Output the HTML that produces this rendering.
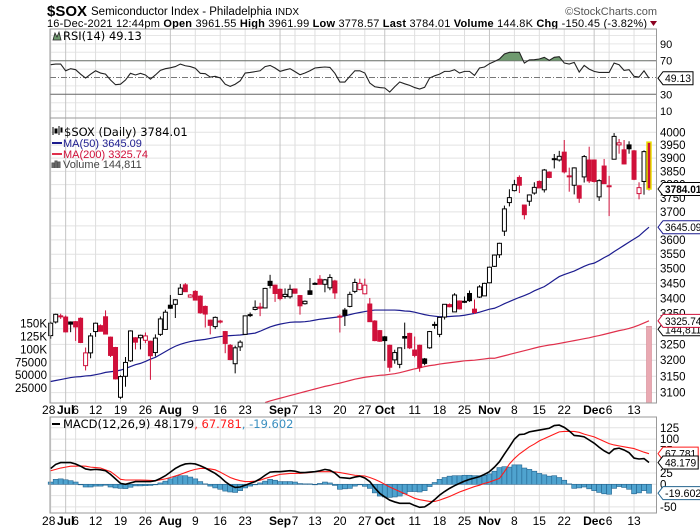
<!DOCTYPE html>
<html><head><meta charset="utf-8"><style>
html,body{margin:0;padding:0;background:#fff;}
svg{display:block;font-family:"Liberation Sans",sans-serif;}
</style></head><body>
<svg id="chart" width="700" height="530" viewBox="0 0 700 530" xmlns="http://www.w3.org/2000/svg">
<rect x="0" y="0" width="700" height="530" fill="#fff"/>
<g>
<text x="47" y="16" font-size="15" font-weight="bold" fill="#000">$SOX</text>
<text x="91" y="15" font-size="11.5" fill="#000">Semiconductor Index - Philadelphia <tspan font-size="10">INDX</tspan></text>
<text x="657" y="15" font-size="11" fill="#555" text-anchor="end">©StockCharts.com</text>
<text x="47" y="27" font-size="11" fill="#000" textLength="600" lengthAdjust="spacing">16-Dec-2021 12:44pm  <tspan font-weight="bold">Open</tspan> 3961.55  <tspan font-weight="bold">High</tspan> 3961.99  <tspan font-weight="bold">Low</tspan> 3778.57  <tspan font-weight="bold">Last</tspan> 3784.01  <tspan font-weight="bold">Volume</tspan> 144.8K  <tspan font-weight="bold">Chg</tspan> -150.45 (-3.82%)</text>
<polygon points="650,21 657,21 653.5,26" fill="#8b0020"/>
</g>
<g id="rsiPanel"></g>
<g id="mainPanel"></g>
<g id="macdPanel"></g>
</svg>
<script>
const opens=[3278,3322,3342,3338,3322,3323,3334,3183,3223,3291,3310,3339,3273,3240,3086,3150,3198,3271,3271,3263,3260,3224,3282,3298,3377,3380,3413,3445,3404,3423,3407,3373,3328,3307,3325,3291,3247,3189,3242,3282,3346,3363,3371,3368,3457,3444,3430,3406,3405,3431,3409,3382,3425,3450,3464,3447,3435,3458,3341,3361,3373,3423,3429,3415,3381,3325,3294,3274,3247,3201,3187,3275,3285,3232,3247,3204,3239,3312,3282,3338,3379,3355,3391,3387,3416,3364,3404,3408,3452,3508,3548,3631,3734,3778,3827,3725,3739,3769,3812,3781,3847,3898,3893,3923,3833,3798,3796,3829,3893,3893,3755,3870,3796,3896,3951,3932,3951,3928,3767,3812,3961.55];
const highs=[3323,3349,3349,3343,3324,3325,3337,3240,3286,3320,3314,3360,3275,3242,3153,3210,3295,3273,3281,3288,3262,3282,3340,3362,3411,3397,3448,3451,3414,3427,3410,3376,3330,3340,3329,3293,3251,3246,3263,3343,3353,3393,3385,3435,3479,3446,3433,3433,3446,3433,3411,3393,3468,3454,3478,3465,3481,3462,3347,3368,3422,3466,3466,3466,3401,3328,3296,3277,3249,3233,3239,3320,3287,3275,3249,3207,3293,3323,3337,3380,3383,3417,3393,3406,3426,3396,3444,3452,3507,3549,3590,3723,3783,3818,3835,3726,3764,3809,3816,3859,3850,3916,3928,3970,3864,3865,3798,3912,3944,3895,3820,3897,3833,3997,3974,3970,3965,3931,3809,3930,3961.99];
const lows=[3268,3317,3332,3288,3289,3261,3254,3168,3206,3274,3291,3283,3210,3140,3081,3118,3195,3234,3234,3254,3139,3212,3277,3298,3365,3335,3411,3422,3402,3394,3349,3304,3282,3299,3317,3222,3200,3159,3229,3282,3338,3360,3341,3367,3433,3388,3393,3399,3399,3415,3346,3379,3412,3446,3446,3420,3427,3398,3288,3309,3370,3417,3427,3413,3323,3260,3258,3198,3164,3189,3175,3235,3235,3209,3164,3184,3236,3300,3273,3330,3370,3355,3363,3384,3388,3348,3401,3408,3450,3506,3537,3614,3720,3775,3769,3673,3722,3763,3788,3771,3824,3861,3887,3842,3774,3764,3733,3808,3806,3808,3740,3804,3685,3896,3917,3876,3917,3817,3746,3763,3778.57];
const closes=[3318,3347,3339,3290,3315,3306,3256,3223,3277,3318,3292,3283,3215,3142,3149,3193,3293,3257,3279,3277,3214,3270,3332,3354,3367,3395,3434,3422,3411,3394,3352,3348,3311,3337,3323,3253,3202,3239,3257,3342,3343,3370,3367,3433,3443,3416,3399,3413,3430,3417,3375,3390,3413,3450,3447,3462,3470,3418,3339,3344,3413,3453,3450,3444,3323,3262,3260,3262,3178,3224,3239,3270,3239,3215,3178,3190,3291,3314,3337,3380,3372,3411,3365,3390,3392,3353,3438,3450,3505,3547,3588,3711,3752,3800,3798,3690,3762,3790,3788,3855,3827,3898,3907,3848,3832,3863,3750,3906,3814,3812,3815,3804,3794,3984,3959,3878,3936,3820,3789,3925,3784.01];
const ma50=[3134,3137,3140,3143,3146,3148,3149,3151,3152,3155,3158,3162,3164,3166,3169,3174,3180,3186,3190,3196,3203,3209,3218,3227,3236,3244,3250,3255,3259,3262,3264,3266,3269,3272,3275,3277,3278,3279,3280,3282,3284,3286,3292,3299,3306,3311,3315,3318,3321,3322,3322,3323,3325,3328,3331,3333,3335,3337,3339,3342,3346,3350,3353,3356,3359,3361,3361,3361,3361,3361,3360,3358,3357,3354,3350,3346,3343,3341,3339,3339,3340,3341,3342,3344,3347,3350,3354,3359,3364,3367,3374,3382,3389,3396,3403,3409,3416,3425,3432,3439,3450,3462,3473,3480,3486,3492,3500,3508,3515,3519,3528,3538,3547,3559,3570,3581,3592,3603,3614,3630,3645.09];
const ma200Start=43;
const ma200=[3070,3075,3079,3083,3087,3091,3095,3099,3103,3107,3111,3115,3119,3122,3126,3129,3133,3137,3141,3144,3147,3149,3151,3153,3154,3156,3158,3161,3165,3169,3173,3176,3180,3183,3185,3188,3190,3192,3194,3196,3198,3199,3200,3202,3204,3206,3206,3210,3214,3218,3222,3226,3230,3234,3238,3242,3245,3248,3250,3253,3256,3259,3262,3265,3268,3271,3275,3278,3282,3286,3290,3294,3297,3301,3306,3312,3319,3325.74];
const volumes=[0,0,0,0,0,0,0,0,0,0,0,0,0,0,0,0,0,0,0,0,0,0,0,0,0,0,0,0,0,0,0,0,0,0,0,0,0,0,0,0,0,0,0,0,0,0,0,0,0,0,0,0,0,0,0,0,0,0,0,0,0,0,0,0,0,0,0,0,0,0,0,0,0,0,0,0,0,0,0,0,0,0,0,0,0,0,0,0,0,0,0,0,0,0,0,0,0,0,0,0,0,0,0,0,0,0,0,0,0,0,0,0,0,0,0,0,0,0,0,0,144811];
const rsi=[65.2,66,66,58,60.5,59.3,54,49.4,54,58,55.3,54,47,41.4,42,47,55,53,55,53,48,53,58.5,60.5,61.5,63,66,64,63,61,55,54.5,50.5,51.4,49.4,42,39.4,42,46,55.3,56,57,58,63,64.4,61.3,57.3,59,60.5,57,53.3,55.3,58,61.3,62,62.5,62,55,44.6,44.6,51.4,58,58,55.3,43.4,39,38,37.5,32.7,39,44.6,42.5,40.6,38,36.3,38.3,49.4,52,54,57.3,57.3,59.3,55.3,57.3,57.3,52.5,61.3,62.5,66.4,69,72,78,80,80,80,67.2,71,71.2,72,74,70.4,74,74.8,67.2,66,68,56.5,64.4,60,57.3,56,56,56,67.2,65.2,58.5,59.3,51.4,50.5,58,49.13];
const macd=[35,44,48,48,48,45,40,34,32,33,32,30,22,12,2,0,3,6,6,6,6,8,13,19,27,35,41,45,46,45,41,36,30,24,16,6,-2,-7,-6,-2,2,6,12,20,27,28,28,29,30,29,26,26,27,28,30,33,31,25,15,14,13,16,18,14,6,-8,-20,-28,-35,-39,-42,-42,-42,-47,-51,-50,-43,-34,-24,-16,-9,-3,2,7,11,14,17,22,28,38,50,67,83,100,110,111,116,118,120,122,124,130,131,126,118,108,107,105,98,91,82,74,68,78,80,76,70,58,56,57,48.179];
const signal=[30,33,36,38,40,40,40.5,40,38,37,36,32,28,20,11,9.5,9.5,9.5,9.5,9,8.5,8,10,12,15,18.4,22,26,30,33,35,35,34,32,27,21,15,11,8,6,6,7,9,13,16,19,22,23,24,24,24.3,25,26,28,28,28,28,27.5,26,24,22,20,19,18.4,15,11,6,0,-6,-11,-16,-21,-26,-31,-34,-36,-38,-38,-35,-31,-27,-22,-17,-13,-9,-5,-2,2,5,9,13,28,45,57,67,75,83,89,96,101,106,111,116,117,117,117,115,111,108,105,100,95,90,87,85,83,81,79,75,71,67.781];
const dateLabels=["28","Jul","6","12","19","26","Aug","9","16","23","Sep","7","13","20","27","Oct","11","18","25","Nov","8","15","22","Dec","6","13"];
const dateIdx=[0,3,5,9,14,19,24,29,34,39,46,49,53,58,63,67,73,78,83,88,93,98,103,109,112,117];
const dateBold=[0,1,0,0,0,0,1,0,0,0,1,0,0,0,0,1,0,0,0,1,0,0,0,1,0,0];
const priceTicks=[4000,3950,3900,3850,3800,3750,3700,3650,3600,3550,3500,3450,3400,3350,3300,3250,3200,3150,3100];
const volTicks=[150000,125000,100000,75000,50000,25000];
const volTickLabels=["150K","125K","100K","75000","50000","25000"];
const rsiTicks=[90,70,30,10];
const macdTicks=[125,100,75,50,25,0,-25,-50];

const NS="http://www.w3.org/2000/svg";
const L=50, R=656.5;
const X0=50.7, XN=649;
function x(i){return X0+(XN-X0)*i/120;}
function yP(v){return 132.3+Math.log(4000/v)*1021.3;}
function yV(v){return 401-v/25000*12.9;}
function yR(v){return 60.7+(70-v)*0.84;}
function yM(v){return 484.3-v*0.452;}
function mk(tag,attrs,parent){const e=document.createElementNS(NS,tag);for(const k in attrs)e.setAttribute(k,attrs[k]);parent.appendChild(e);return e;}
const rsiG=document.getElementById('rsiPanel');
const mainG=document.getElementById('mainPanel');
const macdG=document.getElementById('macdPanel');

function vgrid(g,y1,y2){
  dateIdx.forEach((d,k)=>{
    const l=mk('line',{x1:x(d),x2:x(d),y1:y1,y2:y2,stroke:dateBold[k]?'#c4c4c4':'#dedede','stroke-width':1},g);
    
    
  });
}
function hline(g,y,stroke,name,dash){
  const l=mk('line',{x1:L,x2:R,y1:y,y2:y,stroke:stroke,'stroke-width':1},g);
  if(dash)l.setAttribute('stroke-dasharray',dash);
  
  
  return l;
}
function txt(g,xx,yy,s,attrs,name){
  const t=mk('text',Object.assign({x:xx,y:yy,'font-size':11,fill:'#000'},attrs||{}),g);
  t.textContent=s;
  
  
  return t;
}
function frame(g,y1,y2,name){
  const r=mk('rect',{x:L,y:y1,width:R-L,height:y2-y1,fill:'none',stroke:'#9a9a9a','stroke-width':1},g);
  
  
}
function valBox(g,yy,s,color,bold,name){
  const tw=s.length*5.2;
  const w=tw+4;
  const p=mk('path',{d:`M658,${yy} L663,${yy-6.5} L${663+w},${yy-6.5} L${663+w},${yy+6.5} L663,${yy+6.5} Z`,fill:'#fff',stroke:color,'stroke-width':1},g);
  
  
  txt(g,665,yy+4,s,{'font-size':11,'font-weight':bold?'bold':'normal',textLength:tw,lengthAdjust:'spacingAndGlyphs'},name);
}

/* ---------- RSI ---------- */
const rT=29,rB=118;
for(let v=0;v<=100;v+=10){const yy=yR(v);if(yy>rT&&yy<rB&&v!==70&&v!==30&&v!==50)hline(rsiG,yy,'#e6e6e6','rsi-gridline');}
vgrid(rsiG,rT,rB);
hline(rsiG,yR(70),'#666','rsi-overbought-line');
hline(rsiG,yR(30),'#666','rsi-oversold-line');
hline(rsiG,yR(50),'#777','rsi-midline','6,2,1,2');
let rpts=rsi.map((v,i)=>x(i)+','+yR(v)).join(' ');
const defs=mk('defs',{},rsiG);
const cp=mk('clipPath',{id:'above70'},defs);
mk('rect',{x:L,y:rT,width:R-L,height:yR(70)-rT},cp);
const fillP=mk('polygon',{points:x(0)+','+yR(70)+' '+rpts+' '+x(120)+','+yR(70),fill:'#6f9a6f','clip-path':'url(#above70)'},rsiG);


const rl=mk('polyline',{points:rpts,fill:'none',stroke:'#222','stroke-width':1.1},rsiG);


frame(rsiG,rT,rB,'rsi-frame');
rsiTicks.forEach(v=>txt(rsiG,660,yR(v)+4,String(v),{'font-size':11},'rsi-tick-label'));
const ric=mk('path',{d:'M53,40 L55,33 L57,37 L59,32 L61,40 Z',fill:'#6f9a6f',stroke:'#222','stroke-width':0.8},rsiG);


txt(rsiG,63,40,'RSI(14) 49.13',{'font-size':11.5,'font-family':'DejaVu Sans, sans-serif'},'rsi-legend');
valBox(rsiG,yR(rsi[120]),'49.13','#000',false,'rsi-value-label');

/* ---------- Main price ---------- */
const mT=118,mB=403;
priceTicks.forEach(v=>hline(mainG,yP(v),'#e2e2e2','price-gridline'));
vgrid(mainG,mT,mB);
priceTicks.forEach(v=>txt(mainG,660,yP(v)+4,String(v),{'font-size':11.5},'price-tick-label'));
volTicks.forEach((v,k)=>txt(mainG,47,yV(v)+4,volTickLabels[k],{'font-size':11.5,'text-anchor':'end'},'volume-tick-label'));
volumes.forEach((v,i)=>{if(v<=0)return;
  const r=mk('rect',{x:x(i)-2.5,y:yV(v),width:5,height:mB-yV(v),fill:'#e9a9b2',stroke:'#d88a96','stroke-width':0.6},mainG);
  
  
});
const m50=mk('polyline',{points:ma50.map((v,i)=>x(i)+','+yP(v)).join(' '),fill:'none',stroke:'#1c1c8f','stroke-width':1.2},mainG);


const cpM=mk('clipPath',{id:'mainClip'},defs);
mk('rect',{x:L,y:mT,width:R-L,height:mB-mT},cpM);
const m200=mk('polyline',{points:ma200.map((v,k)=>x(k+ma200Start)+','+yP(v)).join(' '),fill:'none',stroke:'#e0304c','stroke-width':1.2,'clip-path':'url(#mainClip)'},mainG);


closes.forEach((c,i)=>{
  const o=opens[i],h=highs[i],l=lows[i];
  const prev=i>0?closes[i-1]:c-1;
  const col=c>=prev?'#000':'#d0103a';
  const hollow=c>o;
  const cx=x(i);
  const w=mk('line',{x1:cx,x2:cx,y1:yP(h),y2:yP(l),stroke:col,'stroke-width':1},mainG);
  
  
  const top=yP(Math.max(o,c)),bot=yP(Math.min(o,c));
  const b=mk('rect',{x:cx-2,y:top,width:4,height:Math.max(bot-top,1),fill:hollow?'#fff':col,stroke:col,'stroke-width':1},mainG);
  if(i===120){b.setAttribute('stroke','#e8e000');b.setAttribute('stroke-width','1.5');}
  
  
});
frame(mainG,mT,mB,'price-frame');
const ci=mk('path',{d:'M53,127 v8 M55,129 h2 v4 h-2 z M59,126 v9 M61,128 h1 v4 h-1 z',stroke:'#000','stroke-width':1,fill:'#000'},mainG);


txt(mainG,64,136,'$SOX (Daily) 3784.01',{'font-size':11.5,'font-family':'DejaVu Sans, sans-serif'},'price-legend');
const l50=mk('line',{x1:52,x2:62,y1:143,y2:143,stroke:'#1c1c8f','stroke-width':2},mainG);

txt(mainG,63,147,'MA(50) 3645.09',{'font-size':11,fill:'#1c1c8f'},'ma50-legend');
const l200=mk('line',{x1:52,x2:62,y1:154,y2:154,stroke:'#e0304c','stroke-width':2},mainG);

txt(mainG,63,158,'MA(200) 3325.74',{'font-size':11,fill:'#d0103a'},'ma200-legend');
const vi=mk('path',{d:'M52,168 v-5 h2 v5 M55,168 v-7 h2 v7 M58,168 v-6 h2 v6',stroke:'#555','stroke-width':1,fill:'#777'},mainG);

txt(mainG,63,168,'Volume 144,811',{'font-size':11,fill:'#444'},'volume-legend');
valBox(mainG,yV(volumes[120])+3,'144,811','#000',false,'volume-value-label');
valBox(mainG,yP(ma200[ma200.length-1]),'3325.74','#d0103a',false,'ma200-value-label');
valBox(mainG,yP(ma50[120]),'3645.09','#1c1c8f',false,'ma50-value-label');
valBox(mainG,yP(closes[120]),'3784.01','#000',true,'last-price-label');
dateLabels.forEach((s,k)=>txt(mainG,x(dateIdx[k])+(k===0?-2:0),414,s,{'font-size':12,'text-anchor':'middle','font-weight':dateBold[k]?'bold':'normal'},'date-label'));

/* ---------- MACD ---------- */
const cT=417,cB=513;
macdTicks.forEach(v=>hline(macdG,yM(v),'#e2e2e2','macd-gridline'));
vgrid(macdG,cT,cB);
macd.forEach((m,i)=>{
  const h=m-signal[i];
  const y0=yM(0),y1=yM(h);
  const r=mk('rect',{x:x(i)-2.5,y:Math.min(y0,y1),width:5,height:Math.max(Math.abs(y1-y0),0.5),fill:'#4fa3cf',stroke:'#24648f','stroke-width':0.6},macdG);
  
  
});
const sl=mk('polyline',{points:signal.map((v,i)=>x(i)+','+yM(v)).join(' '),fill:'none',stroke:'#ff1a1a','stroke-width':1.1},macdG);


const ml=mk('polyline',{points:macd.map((v,i)=>x(i)+','+yM(v)).join(' '),fill:'none',stroke:'#000','stroke-width':1.6},macdG);


frame(macdG,cT,cB,'macd-frame');
macdTicks.forEach(v=>txt(macdG,660,yM(v)+4,String(v),{'font-size':11.5},'macd-tick-label'));
const ms=mk('line',{x1:52,x2:60,y1:424,y2:424,stroke:'#000','stroke-width':2},macdG);

const mt=txt(macdG,63,428,'MACD(12,26,9) 48.179',{'font-size':11.5,'font-family':'DejaVu Sans, sans-serif'},'macd-legend');
const t2=mk('tspan',{fill:'#ff1a1a'},mt);t2.textContent=', 67.781';
const t3=mk('tspan',{fill:'#3a8fc0'},mt);t3.textContent=', -19.602';
valBox(macdG,yM(signal[120]),'67.781','#ff1a1a',false,'signal-value-label');
valBox(macdG,yM(macd[120]),'48.179','#000',false,'macd-value-label');
valBox(macdG,yM(macd[120]-signal[120]),'-19.602','#24648f',false,'histogram-value-label');
dateLabels.forEach((s,k)=>txt(macdG,x(dateIdx[k])+(k===0?-2:0),525,s,{'font-size':12,'text-anchor':'middle','font-weight':dateBold[k]?'bold':'normal'},'macd-date-label'));
</script>
</body></html>
